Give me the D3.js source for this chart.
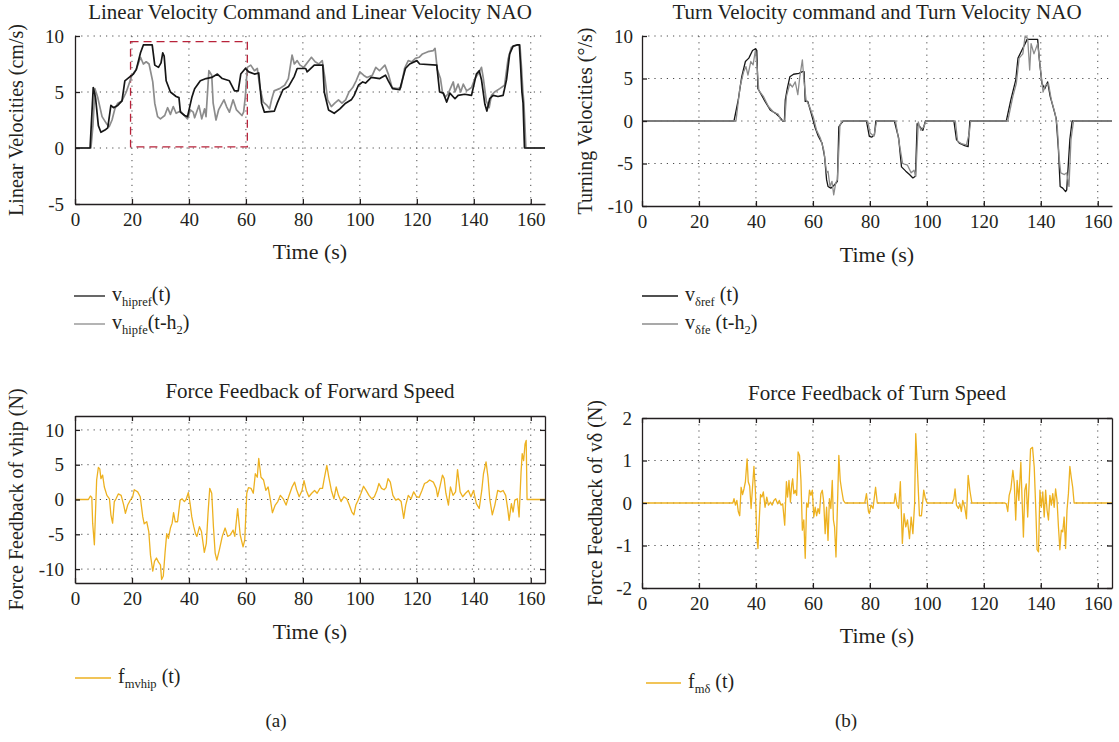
<!DOCTYPE html>
<html lang="en">

<head>
    <meta charset="UTF-8">
    <title>NAO velocity commands and force feedback</title>
    <style>
        html,
        body {
            background-color: #fff;
            margin: 0;
        }

        svg {
            display: block;
        }

        text {
            font-family: "Liberation Serif", "Times New Roman", serif;
            fill: #231f20;
        }

        .grid line {
            stroke: #4a4a4a;
            stroke-width: 1;
            stroke-dasharray: 1.2, 5;
        }

        .axis .domain,
        .axis line {
            stroke: #231f20;
            stroke-width: 1.3;
        }

        .axis text {
            font-size: 19px;
        }
    </style>
</head>

<body>
    <main></main>
    <script src="https://d3js.org/d3.v7.min.js"></script>
    <script>
        'use strict';
        // - - - - - - - - - -
        // 1. Data
        // - - - - - - - - - -

        const timeTicks = [0, 20, 40, 60, 80, 100, 120, 140, 160];
        const linTicks = [-5, 0, 5, 10];
        const turnTicks = [-10, -5, 0, 5, 10];
        const fwdTicks = [-10, -5, 0, 5, 10];
        const turnForceTicks = [-2, -1, 0, 1, 2];

        // the red dashed box in panel 1: [t0, t1, v0, v1]
        const zoomBox = [19.5, 60.5, 0.1, 9.5];

        // [time (s), linear velocity (cm/s)]
        const linRef = [[0, 0], [5.3, 0], [6.4, 5.4], [7.2, 4.5], [8.2, 2.0], [9.1, 1.4], [10.5, 1.6], [11.5, 1.8],
            [12.6, 3.8], [13.5, 3.6], [15, 3.8], [16.5, 4.2], [17.5, 6.0], [19, 6.3], [20.5, 6.6], [21.5, 7.0],
            [23, 8.5], [24, 9.2], [27.1, 9.2], [28, 7.4], [29.3, 7.2], [30.2, 7.6], [30.8, 8.5], [31.3, 8.2],
            [32, 6.0], [33.5, 5.0], [35.5, 4.6], [36.5, 4.5], [37, 3.2], [38.5, 2.9], [39.5, 2.8], [41, 4.5],
            [42, 5.3], [44, 6.0], [46, 6.2], [48, 6.3], [50, 6.6], [51.7, 6.2], [54.2, 6.0], [56, 5.1],
            [57.3, 5.1], [58.2, 6.6], [59.8, 7.1], [61, 6.8], [63, 6.6], [64.5, 6.7], [65.5, 4.0], [66.5, 3.2],
            [70, 3.3], [71, 4.0], [73, 5.2], [75, 5.5], [77, 6.4], [78, 7.1], [81, 7.1], [81.5, 6.8], [84, 7.4],
            [87, 7.4], [87.5, 5.0], [89, 3.4], [91, 3.1], [93, 3.5], [95, 4.0], [97, 4.3], [98, 4.7], [99.5, 5.6],
            [101, 5.9], [102, 5.8], [104, 6.3], [107, 6.2], [109, 6.5], [110, 6.0], [111.5, 5.3], [114, 5.2],
            [116, 7.1], [117.5, 7.5], [120, 7.8], [121, 7.5], [127, 7.4], [128, 5.0], [129.3, 4.9], [130.5, 4.1],
            [131.6, 4.9], [133.4, 4.4], [134.5, 4.7], [136.8, 4.8], [139.2, 4.7], [140.9, 6.6], [141.9, 6.9],
            [142.7, 6.1], [143.9, 3.9], [144.6, 3.3], [145.6, 4.4], [146.8, 4.7], [148.5, 4.6], [150.3, 4.7],
            [151.5, 6.1], [152.6, 8.4], [153.8, 9.1], [155.2, 9.2], [156, 9.2], [156.4, 7.5], [156.9, 5.0],
            [157.3, 4.0], [157.8, 0], [165, 0]];

        const linNao = [[0, 0], [5.6, 0], [6.3, 2.0], [7.0, 5.3], [8, 4.5], [9.5, 2.8], [11, 2.2], [12, 1.9],
            [13, 2.5], [14, 3.5], [15, 4.0], [16.5, 4.2], [18, 5.0], [20, 6.5], [21.5, 7.0], [23, 8.1], [24, 7.5],
            [25, 7.7], [26, 7.5], [27.3, 5.9], [28, 4.0], [29, 2.8], [30, 2.6], [31.5, 2.9], [32.5, 3.6],
            [33.5, 3.0], [34.5, 3.7], [35.5, 3.1], [37, 3.3], [38, 3.0], [39.5, 2.6], [40.5, 3.4], [41.5, 3.2],
            [42, 2.7], [43.5, 3.8], [44.5, 2.6], [45.5, 3.5], [46, 2.8], [47, 6.9], [48, 6.5], [48.5, 4.0],
            [49.5, 2.5], [50.4, 3.4], [52.3, 4.3], [53.2, 3.7], [54.2, 3.2], [55.5, 4.3], [56.7, 3.4], [58.6, 2.9],
            [59.2, 3.2], [59.8, 4.6], [60.5, 7.2], [61.7, 7.4], [63, 6.9], [64, 7.1], [64.9, 5.4], [66.1, 4.1],
            [67.4, 3.8], [68.3, 3.5], [69, 4.3], [69.9, 5.1], [71.8, 5.3], [73.6, 5.6], [74.9, 6.2], [76.2, 8.3],
            [77, 7.5], [78, 7.8], [79, 7.4], [80.3, 7.2], [81.8, 7.7], [83, 8.1], [84.3, 7.7], [85.6, 7.5],
            [86.8, 7.8], [87.7, 6.3], [88.7, 4.3], [90, 3.7], [91.2, 4.0], [92.5, 4.3], [93.7, 4.0], [95, 4.3],
            [96.2, 5.0], [97.5, 5.4], [98.7, 6.0], [100, 6.8], [101.3, 6.5], [102.5, 6.3], [104.4, 6.5],
            [105.6, 7.2], [106.9, 6.9], [108.8, 7.4], [110, 6.6], [111.3, 5.4], [113.2, 5.3], [114.4, 5.4],
            [115.7, 7.1], [117, 7.8], [118.2, 7.7], [119.5, 8.0], [120.8, 8.1], [122, 8.4], [123.9, 8.6],
            [125.8, 8.7], [126.4, 8.9], [127.2, 7.0], [128.3, 6.2], [129, 5.0], [130, 4.55], [131, 4.85],
            [132.8, 5.9], [133.4, 5.0], [134.5, 5.7], [135.4, 5.0], [136.3, 5.7], [137.5, 5.1], [139.2, 5.4],
            [140.4, 6.2], [141.5, 6.6], [142.7, 7.2], [143.3, 6.3], [144.4, 4.2], [145.4, 3.6], [146.2, 4.7],
            [147.3, 5.0], [149.1, 5.3], [150.8, 5.6], [152, 7.9], [153.2, 9.0], [155, 9.2], [156.2, 9.2],
            [156.8, 7.0], [157.2, 5.2], [157.6, 4.0], [158.3, 0], [165, 0]];

        // [time (s), turning velocity (deg/s)]
        const turnRef = [[0, 0], [32.3, 0], [33.8, 2.5], [35, 5.2], [36.3, 7.0], [37.5, 7.4], [38.8, 8.3],
            [39.8, 8.5], [40.3, 8.3], [40.7, 3.8], [41.9, 3.1], [43.2, 2.3], [45, 1.3], [46.9, 0.9], [48.2, 0.5],
            [49.4, 0], [50, 0], [50.3, 2.5], [51, 3.8], [51.9, 5.2], [53.2, 5.5], [55.1, 5.6], [56.3, 5.8],
            [56.9, 5.8], [57.3, 2.3], [58.2, 2.3], [59.4, 0.9], [60.7, -0.7], [61.9, -1.8], [63.2, -2.6],
            [64.1, -4.2], [64.8, -6.9], [65.3, -7.7], [66.3, -7.9], [67.6, -7.5], [68.6, -7.1], [69.1, -0.7],
            [70.1, -0.2], [70.7, 0], [78.8, 0], [79.8, -1.8], [80.7, -1.9], [81.6, -1.6], [82.1, 0], [88.6, 0],
            [90.1, -2.0], [91.1, -5.4], [92.6, -5.9], [93.9, -6.3], [95.1, -6.7], [96, -6.5], [96.6, -0.3],
            [97.6, -0.7], [98.6, -1.1], [99.5, 0], [109.5, 0], [110.4, -2.2], [111.4, -2.6], [113.3, -2.9],
            [114.5, -3.0], [115.1, 0], [127.9, 0], [129.5, 2.5], [131.2, 4.8], [132, 7.4], [133.3, 8.3],
            [134.5, 9.1], [135.2, 9.6], [138.9, 9.6], [139.5, 7.2], [140.4, 4.4], [141.4, 3.8], [142.4, 4.6],
            [143.3, 2.9], [144.6, 1.3], [145.4, 0.3], [146.2, -3.4], [146.8, -7.7], [147.7, -7.9], [148.7, -8.3],
            [149.1, -8.1], [150.2, -2.2], [151, 0], [165, 0]];

        const turnNao = [[0, 0], [33, 0], [34.4, 4.0], [35.7, 5.8], [36.5, 6.4], [37.2, 5.4], [38.2, 7.0],
            [39, 6.6], [39.8, 8.3], [40.4, 6.4], [41, 3.6], [42.6, 2.9], [44.4, 1.7], [46.3, 1.0], [47.8, 0.8],
            [48.8, 0.1], [50.1, 0], [50.7, 2.9], [51.9, 4.4], [52.8, 4.0], [53.8, 4.6], [54.7, 3.1], [55.4, 5.2],
            [56.3, 7.2], [56.9, 4.6], [57.6, 2.5], [58.8, 1.7], [60.1, 0.5], [61.3, -1.1], [62.6, -2.0],
            [63.8, -3.4], [64.8, -6.1], [65.3, -5.9], [66, -7.7], [66.7, -7.1], [67.3, -8.7], [68, -7.3],
            [68.6, -6.9], [69.5, -0.5], [70.3, 0], [79.2, 0], [80.1, -1.4], [81.4, -1.8], [82.4, 0], [89, 0],
            [90.7, -3.4], [91.5, -5.0], [93.2, -5.2], [94.5, -6.1], [95.5, -5.8], [96.1, -6.5], [97, -0.1],
            [97.9, -1.1], [98.9, -0.7], [99.7, 0], [110, 0], [110.8, -2.4], [112.4, -2.7], [113.9, -2.8],
            [114.9, -1.4], [115.4, 0], [128.4, 0], [130.2, 2.9], [131.4, 4.4], [132.4, 7.4], [133.7, 7.9],
            [134.5, 10], [135.4, 9.7], [136.1, 6.0], [136.6, 9.1], [137.6, 7.9], [138.9, 9.1], [139.8, 6.4],
            [140.8, 3.4], [141.6, 4.2], [142.7, 4.4], [143.7, 2.5], [145, 0.9], [145.8, -0.7], [146.4, -4.2],
            [147, -6.1], [148.3, -6.3], [149.1, -6.1], [149.9, -7.7], [150.6, -2.2], [151.5, 0], [165, 0]];

        // [time (s), force feedback of forward speed (N)]
        const forceFwd = [[0, 0], [4.7, 0], [5.4, 0.5], [5.9, 0.3], [6.2, -3.4], [6.8, -6.5], [7.1, -3.0],
            [7.6, 2.8], [8.2, 4.6], [8.7, 4.4], [9.1, 3.0], [9.7, 3.5], [10.3, 1.8], [11.2, 0.6], [12.1, 0.1],
            [12.6, -2.2], [13.2, -3.4], [13.8, -0.3], [14.4, 0.1], [15.2, 0.8], [16.2, 0.6], [17.1, -0.8],
            [17.7, -2.0], [18.5, -0.8], [19.4, -0.1], [20.2, 0.3], [20.8, 1.4], [22, 1.1], [22.9, 0.4],
            [23.8, -2.5], [24.3, -3.5], [25.2, -3.2], [25.9, -4.6], [26.5, -8.0], [27.3, -10.3], [27.9, -8.9],
            [28.6, -8.4], [29.3, -9.0], [30, -9.4], [30.4, -11.5], [31, -11.0], [31.6, -7.7], [32.2, -4.9],
            [32.8, -5.6], [33.5, -4.1], [34.1, -3.4], [34.6, -1.9], [35.2, -3.2], [36, -3.2], [36.9, -0.1],
            [37.6, 0.1], [38.4, -0.3], [39, 0], [39.8, 1.0], [40.4, -0.6], [41, -2.5], [41.7, -3.9], [42.3, -4.9],
            [42.8, -5.3], [43.7, -3.9], [44.4, -4.6], [45.4, -7.6], [46.1, -6.3], [46.7, -2.0], [47.3, 1.6],
            [48, 0.9], [48.6, -3.9], [49.2, -7.7], [49.8, -8.7], [50.7, -7.2], [51.7, -5.3], [52.7, -4.1],
            [53.6, -5.3], [54.5, -5.1], [55.5, -4.4], [56.1, -5.3], [57.1, -1.3], [58, -5.1], [59, -6.8],
            [59.6, -5.8], [60.3, 0.9], [60.9, 1.7], [61.8, 1.6], [62.6, 0.9], [63.3, 3.7], [64, 3.2], [64.5, 5.9],
            [65.3, 3.2], [66.2, 2.8], [67, 1.3], [67.8, 1.8], [68.7, -0.3], [69.3, -1.9], [70.3, -0.8],
            [71.2, -0.3], [72.1, 0.6], [73.1, 0.1], [74.1, -0.8], [75, 0.4], [76.2, 1.8], [77.1, 2.5], [77.8, 1.4],
            [78.7, 0.4], [79.7, 1.3], [80.4, 2.7], [81.2, 1.3], [82.1, 0.4], [83.1, 0.9], [84.1, 1.3], [85, 0.9],
            [86, 1.6], [86.9, 1.6], [87.5, 3.0], [88.4, 4.9], [89.1, 3.2], [90, 1.3], [90.9, 0.1], [91.7, 1.8],
            [92.5, 0.6], [93.4, -0.3], [94.4, 0.4], [95.4, 0.1], [96.3, -0.8], [97.2, -1.8], [97.9, -2.2],
            [98.6, -0.8], [99.4, -0.1], [100.4, 0.9], [101.3, 1.9], [102.2, 1.3], [103.2, 0.6], [104.2, 0.1],
            [105.1, 0.4], [106, 1.3], [106.7, 2.3], [107.6, 1.6], [108.5, 1.4], [109.2, 1.7], [109.9, 3.0],
            [110.7, 2.5], [111.6, 0.6], [112.6, -0.1], [113.5, 0.1], [114.5, -0.3], [115.4, -2.7], [116.1, -0.8],
            [117, 0.6], [118, 0.1], [118.9, 1.1], [119.9, 0.4], [120.8, 0.3], [121.8, 1.3], [122.7, 2.3],
            [123.7, 2.5], [124.5, 2.8], [125.8, 2.5], [126.8, 1.6], [127.3, 0.4], [128.1, 1.8], [129, 3.5],
            [129.6, 3.0], [130.2, 0.9], [131.1, -0.8], [131.8, 1.8], [132.7, 0.6], [133.6, 1.1], [134.3, 4.3],
            [135.2, 1.1], [136.1, 0.4], [137.1, 0.9], [138.1, 1.3], [139, 0.4], [139.9, 1.3], [140.9, -0.6],
            [141.9, -1.3], [142.8, 1.3], [143.4, 3.7], [144.3, 5.4], [145, 3.2], [145.6, 0.1], [146.5, -2.2],
            [147.4, -0.8], [148.4, 1.3], [149.4, 1.1], [150.3, 1.3], [151.2, 0.6], [151.9, -1.3], [152.4, -3.0],
            [153.2, -0.6], [153.8, -1.8], [154.4, -0.1], [155.3, 0.1], [155.9, -2.5], [156.6, 4.0], [157, 6.6],
            [157.5, 5.6], [158, 8.0], [158.4, 8.5], [158.7, 0], [165, 0]];

        // [time (s), force feedback of turn speed (N)]
        const forceTurn = [[0, 0], [31.9, 0], [32.3, 0.1], [32.8, -0.05], [33.3, 0.06], [33.8, -0.2], [34.3, -0.3],
            [34.8, 0.37], [35.3, 0.2], [35.8, 0.33], [36.3, 0.5], [36.9, 1.04], [37.3, 0.5], [37.8, 0.4],
            [38.3, -0.13], [38.8, 0.37], [39.3, 0.86], [39.8, 0.3], [40.3, -0.8], [40.7, -1.07], [41.1, -0.48],
            [41.6, 0.2], [42.1, 0.14], [42.6, 0.26], [43.2, -0.1], [43.8, 0.14], [44.4, -0.05], [45.1, 0.02],
            [45.7, -0.05], [46.3, 0.06], [46.9, 0.1], [47.6, -0.02], [48.2, 0.06], [48.8, -0.05], [49.4, -0.02],
            [50.1, -0.52], [50.7, 0.5], [51.1, 0.14], [51.6, 0.53], [52.1, 0.02], [52.6, 0.45], [52.9, 0.57],
            [53.3, 0.22], [53.8, 0.3], [54.3, 0.18], [54.8, 1.2], [55.3, 1.12], [55.8, 0.53], [56.3, -0.64],
            [56.8, -0.4], [57.3, -1.3], [57.8, 0], [58.3, -0.1], [58.8, 0.3], [59.3, 0.18], [59.8, 0.3],
            [60.3, -0.33], [60.8, -0.1], [61.3, -0.3], [61.8, -0.13], [62.3, -0.25], [62.8, 0.22], [63.3, 0.3],
            [63.8, 0.02], [64.3, -0.72], [64.8, -0.1], [65.3, -0.88], [65.8, 0.1], [66.3, -0.13], [66.8, 0.53],
            [67.2, -0.4], [67.6, -0.56], [68.1, -1.27], [68.6, -0.1], [69.1, 1.12], [69.6, 0.53], [70.1, 0.3],
            [70.7, 0.06], [71.3, 0], [78.2, 0], [78.8, 0.22], [79.5, -0.2], [79.8, -0.25], [80.4, -0.05],
            [81.1, -0.13], [82, 0.37], [82.6, 0], [88.5, 0], [88.9, 0.22], [89.5, -0.05], [90.1, -0.13],
            [90.7, 0.5], [91.4, -0.95], [92, -0.25], [92.6, -0.56], [93.2, -0.4], [93.9, -0.84], [94.5, -0.33],
            [95.1, -0.72], [95.7, -0.02], [96.1, 1.63], [96.6, 0.92], [97.4, -0.3], [98.1, -0.3], [98.9, 0.3],
            [99.5, 0.1], [100.1, 0], [108.9, 0], [109.5, 0.1], [109.9, 0.33], [110.4, -0.05], [111.1, -0.13],
            [111.6, -0.02], [112.1, -0.2], [112.6, 0.06], [113.3, -0.1], [113.9, -0.37], [114.5, 0.65],
            [115.1, 0.3], [115.8, 0], [127.4, 0], [127.9, -0.02], [128.4, -0.2], [128.9, 0.18], [129.5, 0.33],
            [130.2, 0.77], [130.7, 0.45], [131.2, -0.4], [131.7, 0.53], [132.3, 0.06], [133, 0.96], [133.4, 0.14],
            [133.9, -0.8], [134.4, 0.3], [134.9, 0.45], [135.4, -0.33], [135.9, 0.45], [136.4, 1.27],
            [137.1, 1.31], [137.7, 0.84], [138.3, -0.25], [138.7, -1.1], [139.2, -1.15], [139.7, 0.3],
            [140.2, -0.1], [140.7, 0.26], [141.2, -0.33], [141.7, 0.3], [142.2, -0.17], [142.7, -0.4],
            [143.2, 0.18], [143.7, -0.05], [144.2, 0.22], [144.7, -0.1], [145.2, 0.33], [145.7, 0.06],
            [146.2, -0.56], [146.7, -1.1], [147.2, -0.64], [147.7, -0.68], [148.2, -0.33], [148.7, -1.07],
            [149.2, -0.17], [149.7, 0.22], [150.2, 0.86], [150.7, 0.6], [151.2, 0.37], [151.7, 0], [165, 0]];

        // - - - - - - - - - -
        // 2. Drawing
        // - - - - - - - - - -

        const canvas = { width: 1119, height: 742 };
        const BLACK = '#161616',
            GREY = '#8c8c8c',
            ORANGE = '#EDB120';

        let svg;

        function setSvg() {
            svg = d3.select('main')
                .append('svg')
                .attr('width', canvas.width)
                .attr('height', canvas.height);
        }

        /** Draw one panel: grid, series, axes, title and labels */
        function drawPanel(p) {
            const g = svg.append('g');
            const x = d3.scaleLinear().domain([0, 165]).range([p.left, p.right]);
            const y = d3.scaleLinear().domain(p.yDomain).range([p.bottom, p.top]);

            // dotted grid
            const grid = g.append('g').attr('class', 'grid');
            grid.selectAll('line.gx')
                .data(timeTicks.filter(d => d > 0))
                .join('line')
                .attr('x1', d => x(d)).attr('x2', d => x(d))
                .attr('y1', p.top).attr('y2', p.bottom);
            grid.selectAll('line.gy')
                .data(p.yTicks.filter(d => d > p.yDomain[0] && d < p.yDomain[1] || (!p.boxed && d === p.yDomain[1])))
                .join('line')
                .attr('x1', p.left).attr('x2', p.right)
                .attr('y1', d => y(d)).attr('y2', d => y(d));

            if (p.box) {
                g.append('rect')
                    .attr('x', x(p.box[0]))
                    .attr('y', y(p.box[3]))
                    .attr('width', x(p.box[1]) - x(p.box[0]))
                    .attr('height', y(p.box[2]) - y(p.box[3]))
                    .attr('fill', 'none')
                    .attr('stroke', '#b8233a')
                    .attr('stroke-width', 1.3)
                    .attr('stroke-dasharray', '8,5');
            }

            const line = d3.line()
                .x(d => x(d[0]))
                .y(d => y(d[1]));

            p.series.forEach(function (s) {
                g.append('path')
                    .datum(s.data)
                    .attr('d', line)
                    .attr('fill', 'none')
                    .attr('stroke', s.color)
                    .attr('stroke-width', s.width)
                    .attr('stroke-linejoin', 'round');
            });

            // axes, ticks pointing inwards
            g.append('g')
                .attr('class', 'axis')
                .attr('transform', 'translate(0,' + p.bottom + ')')
                .call(d3.axisBottom(x).tickValues(timeTicks).tickSizeInner(-5).tickSizeOuter(0)
                    .tickPadding(9).tickFormat(d => String(d)));
            g.append('g')
                .attr('class', 'axis')
                .attr('transform', 'translate(' + p.left + ',0)')
                .call(d3.axisLeft(y).tickValues(p.yTicks).tickSizeInner(-5).tickSizeOuter(0)
                    .tickPadding(p.yPad).tickFormat(d => String(d)));

            if (p.boxed) {
                g.append('g')
                    .attr('class', 'axis')
                    .attr('transform', 'translate(0,' + p.top + ')')
                    .call(d3.axisTop(x).tickValues(timeTicks).tickSizeInner(-5).tickSizeOuter(0).tickFormat(''));
                g.append('g')
                    .attr('class', 'axis')
                    .attr('transform', 'translate(' + p.right + ',0)')
                    .call(d3.axisRight(y).tickValues(p.yTicks).tickSizeInner(-5).tickSizeOuter(0).tickFormat(''));
            }

            g.append('text')
                .attr('x', (p.left + p.right) / 2)
                .attr('y', p.titleY)
                .attr('text-anchor', 'middle')
                .style('font-size', '21px')
                .text(p.title);

            g.append('text')
                .attr('x', (p.left + p.right) / 2)
                .attr('y', p.xLabelY)
                .attr('text-anchor', 'middle')
                .style('font-size', '22px')
                .text('Time (s)');

            g.append('text')
                .attr('transform', 'translate(' + p.yLabelX + ',' + (p.top + p.bottom) / 2 + ') rotate(-90)')
                .attr('dy', '0.35em')
                .attr('text-anchor', 'middle')
                .style('font-size', '20px')
                .text(p.yLabel);
        }

        /** Legend entries: a short line and a label with subscripts */
        function drawLegend(x0, y0, entries) {
            const g = svg.append('g');
            entries.forEach(function (e, i) {
                const yy = y0 + i * 28;
                g.append('line')
                    .attr('x1', x0).attr('x2', x0 + e.len)
                    .attr('y1', yy).attr('y2', yy)
                    .attr('stroke', e.color)
                    .attr('stroke-width', 1.3);
                const t = g.append('text')
                    .attr('x', x0 + e.len + 7)
                    .attr('y', yy + 5)
                    .style('font-size', '20px');
                let shifted = false;
                e.parts.forEach(function (part) {
                    const sub = part[1] === 'sub';
                    t.append('tspan')
                        .attr('dy', sub ? 5 : (shifted ? -5 : 0))
                        .style('font-size', sub ? '12.5px' : '20px')
                        .text(part[0]);
                    shifted = sub;
                });
            });
        }

        function main() {
            setSvg();

            drawPanel({
                left: 75, right: 545, top: 36, bottom: 204,
                yDomain: [-5, 10], yTicks: linTicks, yPad: 11,
                title: 'Linear Velocity Command and Linear Velocity NAO', titleY: 19,
                xLabelY: 259, yLabel: 'Linear Velocities (cm/s)', yLabelX: 16,
                box: zoomBox,
                series: [
                    { data: linNao, color: GREY, width: 1.7 },
                    { data: linRef, color: BLACK, width: 1.7 }
                ]
            });

            drawPanel({
                left: 642, right: 1112, top: 36, bottom: 206,
                yDomain: [-10, 10], yTicks: turnTicks, yPad: 9,
                title: 'Turn Velocity command and Turn Velocity NAO', titleY: 19,
                xLabelY: 262, yLabel: 'Turning Velocities (°/s)', yLabelX: 585,
                series: [
                    { data: turnRef, color: BLACK, width: 1.3 },
                    { data: turnNao, color: GREY, width: 1.3 }
                ]
            });

            drawPanel({
                left: 75, right: 545, top: 416, bottom: 583,
                yDomain: [-12, 12], yTicks: fwdTicks, yPad: 11, boxed: true,
                title: 'Force Feedback of Forward Speed', titleY: 398,
                xLabelY: 639, yLabel: 'Force Feedback of vhip (N)', yLabelX: 16,
                series: [{ data: forceFwd, color: ORANGE, width: 1.3 }]
            });

            drawPanel({
                left: 642, right: 1112, top: 418, bottom: 588,
                yDomain: [-2, 2], yTicks: turnForceTicks, yPad: 10, boxed: true,
                title: 'Force Feedback of Turn Speed', titleY: 400,
                xLabelY: 643, yLabel: 'Force Feedback of vδ (N)', yLabelX: 595,
                series: [{ data: forceTurn, color: ORANGE, width: 1.3 }]
            });

            drawLegend(74, 296, [
                { color: BLACK, len: 31, parts: [['v'], ['hipref', 'sub'], ['(t)']] },
                { color: GREY, len: 31, parts: [['v'], ['hipfe', 'sub'], ['(t-h'], ['2', 'sub'], [')']] }
            ]);
            drawLegend(642, 296, [
                { color: BLACK, len: 36, parts: [['v'], ['δref', 'sub'], [' (t)']] },
                { color: GREY, len: 36, parts: [['v'], ['δfe', 'sub'], [' (t-h'], ['2', 'sub'], [')']] }
            ]);
            drawLegend(75, 678, [
                { color: ORANGE, len: 36, parts: [['f'], ['mvhip', 'sub'], [' (t)']] }
            ]);
            drawLegend(646, 683, [
                { color: ORANGE, len: 35, parts: [['f'], ['mδ', 'sub'], [' (t)']] }
            ]);

            svg.append('text').attr('x', 276).attr('y', 727).attr('text-anchor', 'middle')
                .style('font-size', '19px').text('(a)');
            svg.append('text').attr('x', 846).attr('y', 727).attr('text-anchor', 'middle')
                .style('font-size', '19px').text('(b)');
        }

        window.addEventListener('load', main);
    </script>
</body>

</html>
